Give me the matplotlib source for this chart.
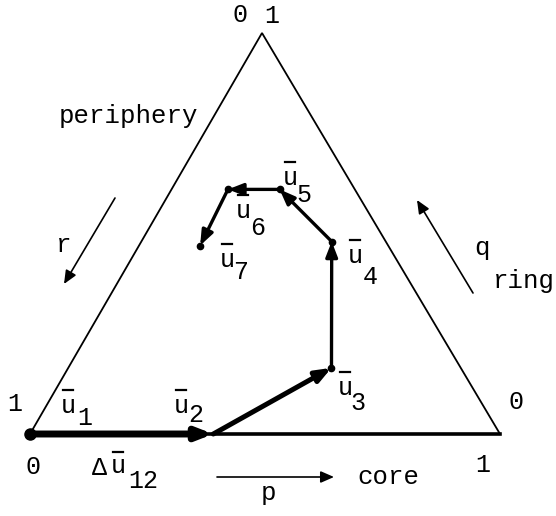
import matplotlib
matplotlib.use("Agg")
import matplotlib.pyplot as plt
import numpy as np

# Composition path in (p, q, r) = (core, ring, periphery) fractions
labels = ["1", "2", "3", "4", "5", "6", "7"]
p_core = [0.00, 0.39, 0.56, 0.405, 0.23, 0.12, 0.13]
q_ring = [0.00, 0.00, 0.165, 0.48, 0.61, 0.61, 0.47]
r_periph = [1 - a - b for a, b in zip(p_core, q_ring)]

# Corner ticks
corner_ticks = ["0", "1"]

FONT = "Liberation Mono"

fig = plt.figure(figsize=(5.56, 5.16), dpi=100)
ax = fig.add_axes([0, 0, 1, 1])
ax.set_xlim(0, 556)
ax.set_ylim(516, 0)
ax.axis("off")

# triangle corners in drawing units: r-corner (left), p-corner (right), q-corner (top)
L = np.array([30.0, 434.0])
R = np.array([500.0, 434.0])
T = np.array([262.0, 33.0])


def tern(p, q, r):
    pt = p * R + q * T + r * L
    return pt[0], pt[1]


# triangle outline
ax.plot([L[0], T[0], R[0]], [L[1], T[1], R[1]], color="black", lw=1.3,
        solid_joinstyle="miter")
ax.plot([L[0], R[0]], [L[1], R[1]], color="black", lw=2.6)

pts = [tern(p, q, r) for p, q, r in zip(p_core, q_ring, r_periph)]

# path segments with arrowheads
seg_lw = [5.0, 3.6, 2.4, 2.4, 2.4, 2.4]
for i in range(len(pts) - 1):
    ax.annotate("", xy=pts[i + 1], xytext=pts[i],
                arrowprops=dict(arrowstyle="-|>,head_length=0.9,head_width=0.35",
                                lw=seg_lw[i], color="black",
                                shrinkA=0, shrinkB=0))

xs = [pt[0] for pt in pts]
ys = [pt[1] for pt in pts]
ax.plot(xs[0], ys[0], "o", color="black", ms=8)
ax.plot(xs[2:], ys[2:], "o", color="black", ms=4.5)


def txt(x, y, s, size=18, **kw):
    ax.text(x, y, s, fontsize=size, family=FONT, ha="center", va="center", **kw)


def ubar(x, y, sub, sx=15, sy=12):
    # barred u with a dropped subscript
    txt(x, y - 2, "u")
    ax.plot([x - 5, x + 5], [y - 18, y - 18], color="black", lw=1.6)
    txt(x + sx, y + sy, sub)


label_pos = [(68, 408), (181, 408), (345, 390), (355, 258), (290, 180),
             (243, 213), (227, 262)]
sub_off = [(17, 10), (15, 7), (13, 13), (15, 19), (14, 15), (15, 15), (14, 10)]
for lab, (lx, ly), (sx, sy) in zip(labels, label_pos, sub_off):
    ubar(lx, ly, lab, sx, sy)

# Δu12 along the base
txt(99, 468, "\u0394")
txt(118, 466, "u")
ax.plot([113, 123], [452, 452], color="black", lw=1.6)
txt(143, 481, "12")

# corner ticks
txt(240, 15, corner_ticks[0])
txt(272, 16, corner_ticks[1])
txt(15, 404, corner_ticks[1])
txt(516, 402, corner_ticks[0])
txt(33, 467, corner_ticks[0])
txt(483, 465, corner_ticks[1])

# axis names
ax.text(128, 123, "periphery", fontsize=18.5, family=FONT, ha="center", va="baseline")
ax.text(524, 288, "ring", fontsize=18.5, family=FONT, ha="center", va="baseline")
ax.text(388, 484, "core", fontsize=18.5, family=FONT, ha="center", va="baseline")
ax.text(268, 500, "p", fontsize=18.5, family=FONT, ha="center", va="baseline")
ax.text(64, 252, "r", fontsize=18.5, family=FONT, ha="center", va="baseline")
ax.text(482, 255, "q", fontsize=18.5, family=FONT, ha="center", va="baseline")

# direction arrows
arrow_kw = dict(arrowstyle="-|>,head_length=0.8,head_width=0.35", lw=1.2,
                color="black", shrinkA=0, shrinkB=0)
ax.annotate("", xy=(64, 284), xytext=(115, 198), arrowprops=arrow_kw)
ax.annotate("", xy=(417, 200), xytext=(473, 293), arrowprops=arrow_kw)
ax.annotate("", xy=(334, 477), xytext=(217, 477), arrowprops=arrow_kw)

fig.savefig("out.png", dpi=100, facecolor="white")
